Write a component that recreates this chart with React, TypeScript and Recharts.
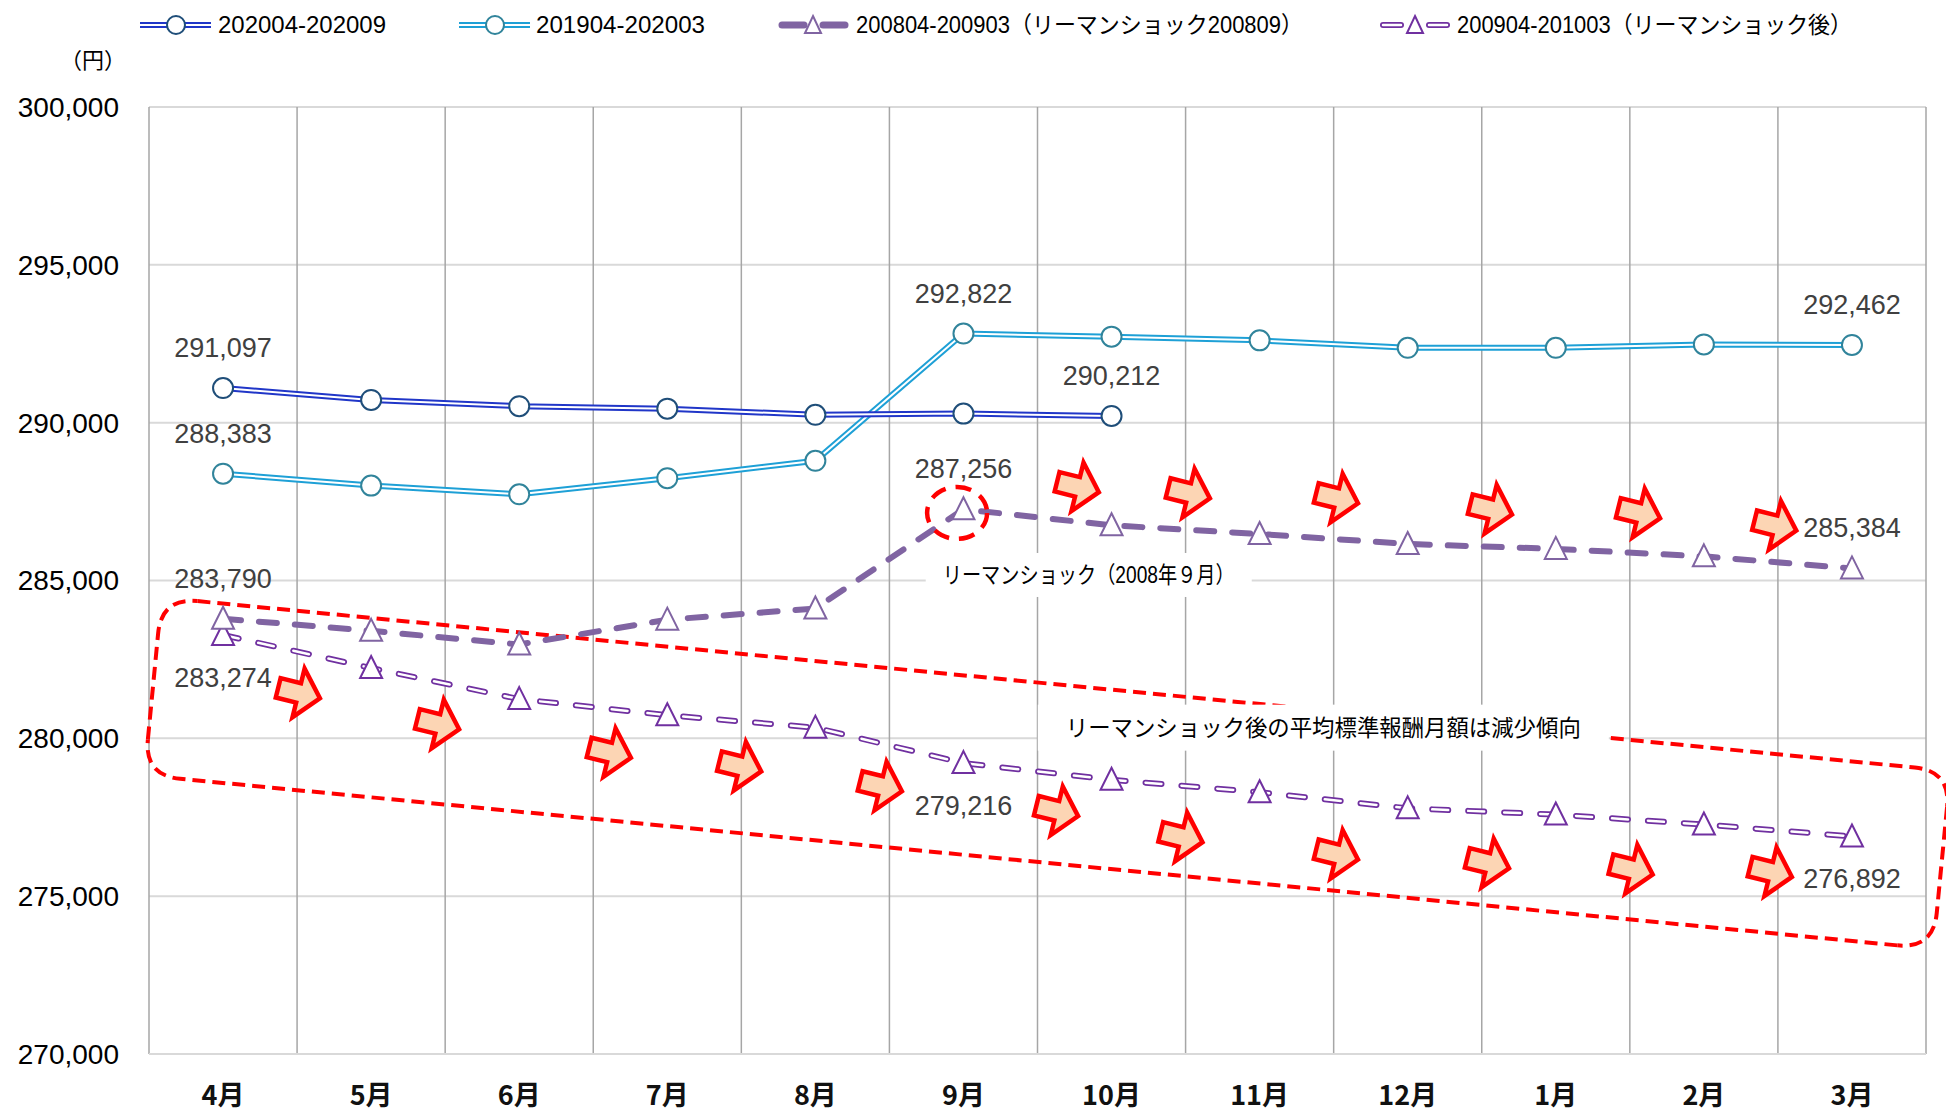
import React from 'react';
import {
  LineChart, Line, XAxis, YAxis, CartesianGrid, ReferenceLine, ReferenceDot, LabelList,
} from 'recharts';

// 月（年度順）
const months = ['4月', '5月', '6月', '7月', '8月', '9月', '10月', '11月', '12月', '1月', '2月', '3月'];

// 平均標準報酬月額（円）
const s202004 = [291097, 290720, 290523, 290444, 290248, 290287, 290212];
const s201904 = [288383, 288006, 287731, 288242, 288793, 292822, 292725, 292607, 292371, 292371, 292480, 292462];
const s200804 = [283790, 283405, 282973, 283759, 284113, 287256, 286748, 286473, 286158, 286001, 285765, 285384];
const s200904 = [283274, 282226, 281243, 280731, 280338, 279216, 278687, 278293, 277782, 277586, 277271, 276892];

const yTicks = [270000, 275000, 280000, 285000, 290000, 295000, 300000];

// annotations, in data units (month index, yen)
const arrowsUpper = [
  { x: 6.77, y: 287967 }, { x: 7.52, y: 287770 }, { x: 8.52, y: 287613 },
  { x: 9.56, y: 287259 }, { x: 10.56, y: 287141 }, { x: 11.48, y: 286748 },
];
const arrowsLower = [
  { x: 1.51, y: 281439 }, { x: 2.45, y: 280456 }, { x: 3.61, y: 279552 }, { x: 4.49, y: 279119 },
  { x: 5.44, y: 278490 }, { x: 6.63, y: 277704 }, { x: 7.47, y: 276878 }, { x: 8.52, y: 276327 },
  { x: 9.54, y: 276052 }, { x: 10.51, y: 275855 }, { x: 11.45, y: 275777 },
];
const boxCorners = [
  { x: 0.585, y: 284457 }, { x: 12.666, y: 278966 }, { x: 12.549, y: 273331 }, { x: 0.469, y: 278828 },
];
const shockCircle = { x: 5.957, y: 287141 };
const shockNote = { x: 6.846, y: 285175, text: 'リーマンショック（2008年９月）' };
const trendNote = { x: 8.43, y: 280338, text: 'リーマンショック後の平均標準報酬月額は減少傾向' };

const data = months.map((label, i) => ({
  m: i + 1,
  label,
  s202004: s202004[i] ?? null,
  s201904: s201904[i] ?? null,
  s200804: s200804[i] ?? null,
  s200904: s200904[i] ?? null,
}));
const boundaries = [0, ...months.map((_, i) => i + 1)].map(v => v + 0.5);

const NUM_FONT = '"Liberation Sans", Arial, sans-serif';
const JP_FONT = '"Liberation Sans", "Noto Sans CJK JP", sans-serif';

const C_BLUE = '#2036c8';
const C_BLUE_DOT = '#1f4e79';
const C_CYAN = '#1ea0d6';
const C_CYAN_DOT = '#31849b';
const C_PURPLE = '#8064a2';
const C_VIOLET = '#7030a0';
const RED = '#ff0000';

type LabelPos = Record<number, 'up' | 'down'>;

const valueLabel = (spec: LabelPos) => (props: any) => {
  const { value, index } = props;
  const x = props.x ?? props.viewBox?.x;
  const y = props.y ?? props.viewBox?.y;
  const pos = spec[index];
  if (!pos || value == null || x == null || y == null) return null;
  return (
    <text x={x} y={pos === 'up' ? y - 31 : y + 52} textAnchor="middle" fill="#404040" fontSize={27} fontFamily={NUM_FONT}>
      {Number(value).toLocaleString('en-US')}
    </text>
  );
};

const triangleDot = (stroke: string) => (props: any) => {
  const { cx, cy, index } = props;
  if (cx == null || cy == null) return <g key={`t-${index}`} />;
  return (
    <polygon
      key={`t-${index}`}
      points={`${cx},${cy - 12} ${cx + 11},${cy + 10} ${cx - 11},${cy + 10}`}
      fill="#fff" stroke={stroke} strokeWidth={2}
    />
  );
};

const arrowShape = (p: any) => {
  const { cx, cy } = p;
  if (cx == null || cy == null) return <g />;
  return (
    <path
      d="M-21,-10 L0,-10 L0,-25 L22,0 L0,25 L0,10 L-21,10 Z"
      transform={`translate(${cx},${cy}) rotate(14)`}
      fill="#fcd5b4" stroke={RED} strokeWidth={4.5} strokeLinejoin="miter"
    />
  );
};

const ellipseShape = (p: any) => (
  <ellipse cx={p.cx} cy={p.cy} rx={30} ry={26} fill="none" stroke={RED} strokeWidth={4.5} strokeDasharray="16 10" />
);

const noteShape = (text: string, w: number, h: number, textLength?: number) => (p: any) => (
  <g>
    <rect x={p.cx - w / 2} y={p.cy - h / 2} width={w} height={h} fill="#fff" />
    <text
      x={p.cx} y={p.cy + 8} textAnchor="middle" fontSize={23} fontFamily={JP_FONT} fill="#000"
      textLength={textLength} lengthAdjust={textLength ? 'spacingAndGlyphs' : undefined}
    >
      {text}
    </text>
  </g>
);

// one rounded-corner edge of the dashed box: straight part + corner into the next edge
const boxEdge = (p: any) => {
  const { x1, y1, x2, y2 } = p;
  const len = Math.hypot(x2 - x1, y2 - y1) || 1;
  const dx = (x2 - x1) / len;
  const dy = (y2 - y1) / len;
  const nx = -dy;
  const ny = dx;
  const r = 36;
  const d = `M${x1 + r * dx},${y1 + r * dy} L${x2 - r * dx},${y2 - r * dy} Q${x2},${y2} ${x2 + r * nx},${y2 + r * ny}`;
  return <path d={d} fill="none" stroke={RED} strokeWidth={4} strokeDasharray="13 7" />;
};

function LegendOverlay() {
  const y = 25;
  const tri = (cx: number, stroke: string) => (
    <polygon points={`${cx},${y - 9} ${cx + 8},${y + 8} ${cx - 8},${y + 8}`} fill="#fff" stroke={stroke} strokeWidth={2} />
  );
  const txt = (x: number, s: string, w: number) => (
    <text x={x} y={y + 8} fontSize={23} fontFamily={JP_FONT} fill="#000" textLength={w} lengthAdjust="spacingAndGlyphs">{s}</text>
  );
  return (
    <svg width={1946} height={80} style={{ position: 'absolute', left: 0, top: 0, pointerEvents: 'none' }}>
      <line x1={140} y1={y} x2={211} y2={y} stroke={C_BLUE} strokeWidth={6} />
      <line x1={140} y1={y} x2={211} y2={y} stroke="#fff" strokeWidth={2} />
      <circle cx={176} cy={y} r={9} fill="#fff" stroke={C_BLUE_DOT} strokeWidth={2} />
      {txt(218, '202004-202009', 168)}

      <line x1={459} y1={y} x2={530} y2={y} stroke={C_CYAN} strokeWidth={6} />
      <line x1={459} y1={y} x2={530} y2={y} stroke="#fff" strokeWidth={2} />
      <circle cx={495} cy={y} r={9} fill="#fff" stroke={C_CYAN_DOT} strokeWidth={2} />
      {txt(536, '201904-202003', 169)}

      <line x1={782} y1={y} x2={804} y2={y} stroke={C_PURPLE} strokeWidth={7} strokeLinecap="round" />
      <line x1={823} y1={y} x2={845} y2={y} stroke={C_PURPLE} strokeWidth={7} strokeLinecap="round" />
      {tri(813, C_PURPLE)}
      {txt(856, '200804-200903（リーマンショック200809）', 447)}

      <line x1={1383} y1={y} x2={1401} y2={y} stroke={C_VIOLET} strokeWidth={6} strokeLinecap="round" />
      <line x1={1383} y1={y} x2={1401} y2={y} stroke="#fff" strokeWidth={2.5} strokeLinecap="round" />
      <line x1={1429} y1={y} x2={1447} y2={y} stroke={C_VIOLET} strokeWidth={6} strokeLinecap="round" />
      <line x1={1429} y1={y} x2={1447} y2={y} stroke="#fff" strokeWidth={2.5} strokeLinecap="round" />
      {tri(1415, C_VIOLET)}
      {txt(1457, '200904-201003（リーマンショック後）', 395)}

      <text x={93} y={68} textAnchor="middle" fontSize={22} fontFamily={JP_FONT} fill="#000">（円）</text>
    </svg>
  );
}

export default function App() {
  return (
    <div style={{ position: 'absolute', left: 0, top: 0, width: 1946, height: 1116, background: '#fff' }}>
      <LineChart width={1946} height={1116} data={data} margin={{ top: 107, right: 20, bottom: 0, left: 0 }}>
        <CartesianGrid vertical={false} stroke="#d9d9d9" strokeWidth={2} />
        {boundaries.map(b => (
          <ReferenceLine key={`v-${b}`} x={b} stroke="#a6a6a6" strokeWidth={1.5} ifOverflow="visible" />
        ))}
        <XAxis
          dataKey="m" type="number" domain={[0.5, 12.5]} ticks={months.map((_, i) => i + 1)} interval={0}
          tickFormatter={(v: number) => months[v - 1] ?? ''}
          axisLine={{ stroke: '#d9d9d9', strokeWidth: 2 }} tickLine={false} tickSize={0} tickMargin={32} height={62}
          tick={{ fill: '#111', fontSize: 27, fontFamily: '"Noto Sans CJK JP", sans-serif', fontWeight: 600 }}
        />
        <YAxis
          domain={[270000, 300000]} ticks={yTicks} interval={0} width={149}
          tickFormatter={(v: number) => v.toLocaleString('en-US')}
          axisLine={false} tickLine={false} tickSize={0} tickMargin={30}
          tick={{ fill: '#000', fontSize: 28, fontFamily: NUM_FONT }}
        />

        {boxCorners.map((c, i) => (
          <ReferenceLine
            key={`box-${i}`} segment={[c, boxCorners[(i + 1) % boxCorners.length]]}
            ifOverflow="visible" shape={boxEdge}
          />
        ))}
        <ReferenceDot x={shockNote.x} y={shockNote.y} r={1} ifOverflow="visible" shape={noteShape(shockNote.text, 326, 44, 292)} />
        <ReferenceDot x={trendNote.x} y={trendNote.y} r={1} ifOverflow="visible" shape={noteShape(trendNote.text, 571, 46, 515)} />

        {/* 200904-201003: double thin dashed */}
        <Line id="s0904o" dataKey="s200904" stroke={C_VIOLET} strokeWidth={6} strokeDasharray="16 20" strokeLinecap="round" dot={false} activeDot={false} isAnimationActive={false} />
        <Line id="s0904i" dataKey="s200904" stroke="#fff" strokeWidth={2.5} strokeDasharray="16 20" strokeLinecap="round" dot={triangleDot(C_VIOLET)} activeDot={false} isAnimationActive={false}>
          <LabelList dataKey="s200904" content={valueLabel({ 0: 'down', 5: 'down', 11: 'down' })} />
        </Line>

        {/* 200804-200903: thick dashed */}
        <Line id="s0804" dataKey="s200804" stroke={C_PURPLE} strokeWidth={6} strokeDasharray="18 18" strokeLinecap="round" dot={triangleDot(C_PURPLE)} activeDot={false} isAnimationActive={false}>
          <LabelList dataKey="s200804" content={valueLabel({ 0: 'up', 5: 'up', 11: 'up' })} />
        </Line>

        {/* 201904-202003 */}
        <Line id="s1904o" dataKey="s201904" stroke={C_CYAN} strokeWidth={6} dot={false} activeDot={false} isAnimationActive={false} />
        <Line id="s1904i" dataKey="s201904" stroke="#fff" strokeWidth={2} dot={{ r: 10, fill: '#fff', stroke: C_CYAN_DOT, strokeWidth: 2 }} activeDot={false} isAnimationActive={false}>
          <LabelList dataKey="s201904" content={valueLabel({ 0: 'up', 5: 'up', 11: 'up' })} />
        </Line>

        {/* 202004-202009 */}
        <Line id="s2004o" dataKey="s202004" stroke={C_BLUE} strokeWidth={6} dot={false} activeDot={false} isAnimationActive={false} />
        <Line id="s2004i" dataKey="s202004" stroke="#fff" strokeWidth={2} dot={{ r: 10, fill: '#fff', stroke: C_BLUE_DOT, strokeWidth: 2 }} activeDot={false} isAnimationActive={false}>
          <LabelList dataKey="s202004" content={valueLabel({ 0: 'up', 6: 'up' })} />
        </Line>

        <ReferenceDot x={shockCircle.x} y={shockCircle.y} r={1} ifOverflow="visible" shape={ellipseShape} />
        {[...arrowsUpper, ...arrowsLower].map((a, i) => (
          <ReferenceDot key={`arrow-${i}`} x={a.x} y={a.y} r={1} ifOverflow="visible" shape={arrowShape} />
        ))}
      </LineChart>
      <LegendOverlay />
    </div>
  );
}
